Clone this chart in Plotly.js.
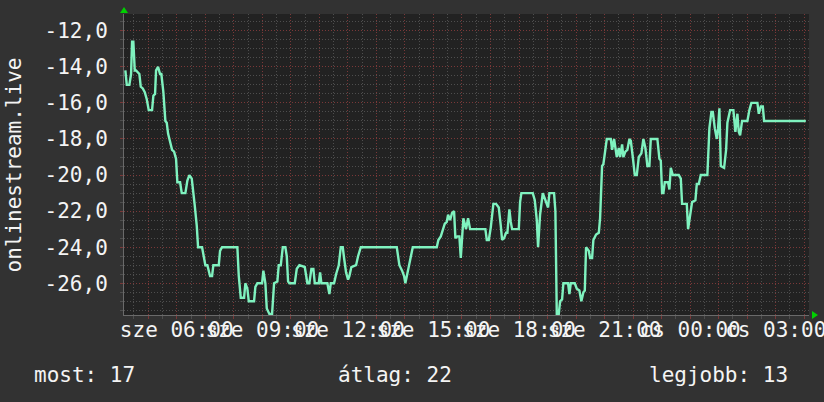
<!DOCTYPE html>
<html>
<head>
<meta charset="utf-8">
<script src="https://cdn.plot.ly/plotly-3.0.1.min.js"></script>
<style>
html,body{margin:0;padding:0;background:#323232;}
#chart{width:824px;height:402px;}
</style>
</head>
<body>
<div id="chart"></div>
<script>
// time in hours since Wednesday 00:00 (values > 24 are Thursday)
const hours = [
4.198,4.247,4.338,4.398,4.433,4.478,4.527,4.573,4.689,4.738,
4.808,4.878,4.948,5.018,5.134,5.180,5.239,5.274,5.344,5.414,
5.460,5.530,5.600,5.649,5.695,5.765,5.835,5.905,5.975,6.021,
6.116,6.175,6.302,6.372,6.442,6.526,6.582,6.631,6.701,6.747,
6.887,6.933,7.003,7.073,7.168,7.238,7.283,7.473,7.518,7.588,
8.125,8.174,8.244,8.360,8.405,8.475,8.525,8.710,8.756,8.826,
8.991,9.036,9.107,9.156,9.247,9.342,9.412,9.527,9.576,9.647,
9.717,9.808,9.857,9.903,9.948,10.137,10.208,10.299,10.488,10.579,
10.649,10.720,10.790,10.839,10.979,11.025,11.070,11.280,11.351,11.400,
11.515,11.586,11.680,11.750,11.820,11.866,11.936,12.006,12.052,12.122,
12.287,12.357,12.452,13.714,13.760,13.805,13.900,13.970,14.015,14.086,
14.156,14.226,14.275,15.116,15.172,15.257,15.327,15.397,15.467,15.513,
15.583,15.653,15.723,15.769,15.839,15.909,15.958,16.004,16.049,16.144,
16.214,16.284,16.820,16.870,16.940,17.010,17.101,17.196,17.290,17.360,
17.406,17.476,17.546,17.592,17.662,17.711,17.757,17.992,18.037,18.083,
18.482,18.553,18.623,18.668,18.738,18.833,18.924,19.019,19.065,19.229,
19.275,19.324,19.394,19.440,19.510,19.556,19.720,19.766,19.815,19.955,
20.025,20.116,20.186,20.257,20.306,20.351,20.446,20.492,20.562,20.607,
20.702,20.797,20.842,20.912,20.958,21.028,21.077,21.217,21.263,21.333,
21.428,21.498,21.544,21.614,21.659,21.729,21.799,21.870,21.919,21.989,
22.059,22.129,22.199,22.290,22.360,22.431,22.501,22.571,22.620,22.851,
22.922,22.971,23.016,23.062,23.111,23.227,23.272,23.321,23.391,23.602,
23.672,23.717,23.882,23.928,23.998,24.068,24.184,24.233,24.303,24.373,
24.604,24.675,24.745,24.794,24.864,24.934,24.980,25.025,25.074,25.190,
25.260,25.306,25.401,25.516,25.586,25.656,25.705,25.751,25.821,26.007,
26.077,26.147,26.358,26.407,26.477,26.547,26.593,28.055
];
const values = [
-14.2,-15.0,-15.0,-14.4,-12.6,-12.6,-14.2,-14.2,-14.4,-15.1,
-15.2,-15.4,-15.8,-16.4,-16.4,-15.6,-15.5,-14.2,-14.0,-14.4,
-14.4,-15.4,-17.0,-17.1,-17.7,-18.2,-18.6,-18.7,-19.1,-20.4,
-20.4,-21.0,-21.0,-20.3,-20.0,-20.2,-21.2,-21.7,-22.8,-24.0,
-24.0,-24.4,-25.0,-25.0,-25.6,-25.6,-25.0,-25.0,-24.2,-24.0,
-24.0,-25.6,-26.8,-26.8,-26.0,-26.3,-27.0,-27.0,-26.2,-26.0,
-26.0,-25.3,-26.0,-27.4,-27.7,-27.7,-26.0,-25.9,-25.0,-25.0,
-24.0,-24.0,-24.5,-25.9,-26.0,-26.0,-25.2,-25.0,-25.1,-26.0,
-26.0,-25.2,-25.2,-26.0,-26.0,-25.4,-26.0,-26.0,-26.6,-26.0,
-26.0,-25.5,-25.0,-24.0,-24.0,-24.6,-25.4,-25.8,-25.6,-25.1,
-25.0,-24.5,-24.0,-24.0,-24.7,-25.0,-25.3,-25.6,-26.0,-25.5,
-25.0,-24.5,-24.0,-24.0,-23.6,-23.4,-23.1,-22.7,-22.6,-22.2,
-22.5,-22.1,-22.0,-23.5,-23.4,-23.4,-24.6,-23.4,-22.4,-23.0,
-22.4,-23.0,-23.0,-23.6,-23.6,-22.9,-21.6,-21.6,-21.8,-22.8,
-23.6,-23.5,-23.2,-23.2,-21.9,-22.6,-23.0,-23.0,-21.5,-21.0,
-21.0,-21.4,-22.5,-24.0,-22.2,-21.0,-21.4,-21.8,-21.0,-21.0,
-22.0,-27.7,-27.7,-27.0,-26.9,-26.0,-26.0,-26.6,-26.0,-26.0,
-26.3,-26.4,-27.0,-26.5,-26.4,-24.0,-24.2,-24.6,-24.6,-23.6,
-23.3,-23.2,-22.4,-19.5,-19.4,-18.5,-18.0,-18.0,-18.6,-18.0,
-19.0,-18.5,-19.0,-18.3,-19.0,-18.7,-18.6,-18.0,-18.1,-19.0,
-20.0,-20.0,-19.0,-18.8,-18.0,-18.5,-19.5,-19.5,-18.0,-18.0,
-19.1,-19.2,-21.0,-21.0,-20.4,-20.4,-20.8,-19.6,-20.0,-20.0,
-20.2,-21.6,-21.6,-23.0,-22.3,-21.5,-21.4,-20.5,-20.5,-20.0,
-20.0,-17.4,-16.5,-16.5,-17.4,-18.0,-17.4,-16.3,-19.5,-19.6,
-18.6,-17.1,-16.4,-16.4,-17.6,-16.6,-17.6,-17.8,-17.0,-17.0,
-16.4,-16.0,-16.0,-16.6,-16.2,-16.2,-17.0,-17.0
];
// x ticks (hours since Wednesday 00:00) and their labels
const xTickHours = [5,6,7,8,9,10,11,12,13,14,15,16,17,18,19,20,21,22,23,24,25,26,27,28];
const xTickLabels = ['','sze 06:00','','','sze 09:00','','','sze 12:00','','','sze 15:00','',
                     '','sze 18:00','','','sze 21:00','','','cs 00:00','','','cs 03:00',''];
const yTickVals = [-26,-24,-22,-20,-18,-16,-14,-12];
const yTickText = ['-26,0','-24,0','-22,0','-20,0','-18,0','-16,0','-14,0','-12,0'];
const yTitle = 'onlinestream.live';
const legendItems = ['most: 17','átlag: 22','legjobb: 13'];
const xRangeHours = [4.15, 28.167];
const yRange = [-27.76, -11.07];

const base = Date.UTC(2024, 8, 18); // Wednesday (szerda)
function toDate(h){ return new Date(base + h*3600000).toISOString().replace('T',' ').slice(0,19); }

const W = 824, H = 402;
const M = {l:124, r:15, t:14, b:87};
const pw = W - M.l - M.r, ph = H - M.t - M.b;
const px2x = px => (px - M.l)/pw;
const px2y = py => (H - M.b - py)/ph;

const FONT = 'DejaVu Sans Mono, monospace';
const FS = 21;
const TXT = '#f4f4f4';

const trace = {
  x: hours.map(toDate), y: values, type:'scatter', mode:'lines',
  line:{color:'#7ff2bf', width:2.4}, hoverinfo:'skip'
};

const legendX = [32, 336, 647];
const annotations = legendItems.map((t,i)=>({
  text:t, xref:'paper', yref:'paper', x:px2x(legendX[i]), y:px2y(375),
  xanchor:'left', yanchor:'middle', showarrow:false,
  font:{family:FONT, size:FS, color:TXT}
}));
annotations.push({
  text:yTitle, xref:'paper', yref:'paper', x:px2x(13), y:px2y(164.5),
  xanchor:'center', yanchor:'middle', textangle:-90, showarrow:false,
  font:{family:FONT, size:FS, color:TXT}
});

const layout = {
  width:W, height:H, margin:M,
  paper_bgcolor:'#323232', plot_bgcolor:'#222222',
  showlegend:false,
  font:{family:FONT, size:FS, color:TXT},
  xaxis:{
    type:'date', range:xRangeHours.map(toDate),
    tickmode:'array', tickvals:xTickHours.map(toDate), ticktext:xTickLabels,
    tickangle:0, ticklabeloverflow:'allow',
    showgrid:true, gridcolor:'#7a3838', griddash:'1px,2px', gridwidth:1,
    ticks:'outside', ticklen:3, tickcolor:'#7a3838', tickwidth:1,
    showline:true, linecolor:'#6a6a6a', linewidth:1,
    zeroline:false, automargin:false, ticklabelstandoff:-7,
    tickfont:{family:FONT, size:FS, color:TXT},
    minor:{dtick:1800000, tick0:toDate(4.5), showgrid:true, gridcolor:'#4e4e4e',
           griddash:'1px,2px', gridwidth:1, ticks:'outside', ticklen:3, tickcolor:'#4e4e4e'}
  },
  yaxis:{
    range:yRange, tickmode:'array', tickvals:yTickVals, ticktext:yTickText,
    showgrid:true, gridcolor:'#7a3838', griddash:'1px,2px', gridwidth:1,
    ticks:'outside', ticklen:3, tickcolor:'#7a3838',
    showline:true, linecolor:'#6a6a6a', linewidth:1,
    zeroline:false, automargin:false, ticklabelstandoff:8,
    tickfont:{family:FONT, size:FS, color:TXT},
    minor:{dtick:0.5, tick0:0, showgrid:true, gridcolor:'#4e4e4e',
           griddash:'1px,2px', gridwidth:1, ticks:'outside', ticklen:3, tickcolor:'#4e4e4e'}
  },
  annotations:annotations,
  shapes:[
    {type:'path', xref:'paper', yref:'paper', xsizemode:'pixel', ysizemode:'pixel',
     xanchor:0, yanchor:1, path:'M-4,1 L4,1 L0,7 Z', fillcolor:'#00d000', line:{width:0}},
    {type:'path', xref:'paper', yref:'paper', xsizemode:'pixel', ysizemode:'pixel',
     xanchor:1, yanchor:0, path:'M3,4 L3,-4 L9,0 Z', fillcolor:'#00d000', line:{width:0}}
  ],
  hovermode:false
};

Plotly.newPlot('chart', [trace], layout, {staticPlot:true, displayModeBar:false});
</script>
</body>
</html>
